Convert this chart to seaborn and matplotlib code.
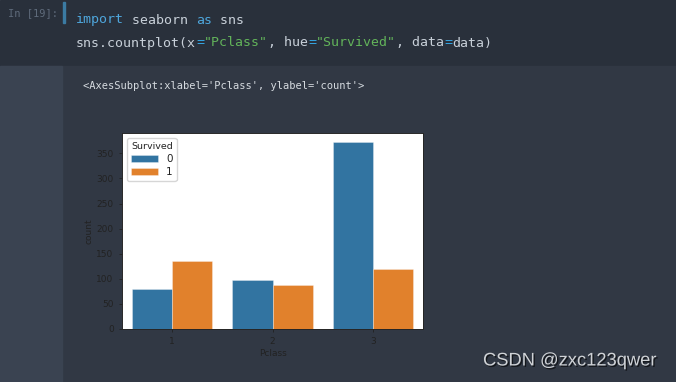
import matplotlib
matplotlib.use("Agg")
import matplotlib.pyplot as plt
import matplotlib.patches as mpatches
import matplotlib.patheffects as pe
import pandas as pd
import seaborn as sns

# Titanic counts by passenger class and survival
pclass = [1, 2, 3]
died = [80, 97, 372]
survived = [136, 87, 119]
hue_levels = ["0", "1"]

W, H = 676, 382

df = pd.DataFrame({
    "Pclass": pclass * 2,
    "count": died + survived,
    "Survived": [hue_levels[0]] * 3 + [hue_levels[1]] * 3,
})

sns.set_style("ticks")
plt.rcParams["font.family"] = ["DejaVu Sans"]

fig = plt.figure(figsize=(W / 100, H / 100), dpi=100)
renderer = fig.canvas.get_renderer()


def px_rect(x, y, w, h, color):
    # rectangle in pixel coords, y from top
    fig.patches.append(mpatches.Rectangle(
        (x / W, 1 - (y + h) / H), w / W, h / H,
        transform=fig.transFigure, color=color, zorder=-10))


def px_text(x, y, s, **kw):
    return fig.text(x / W, 1 - y / H, s, va="center", ha="left", **kw)


# notebook background
px_rect(0, 0, W, 66, "#29303b")
px_rect(0, 66, W, H - 66, "#313844")
px_rect(0, 66, 62, H - 66, "#3a4351")
px_rect(63, 2, 2, 21, "#3b7ba3")

mono = "DejaVu Sans Mono"
px_text(8, 13, "In [19]:", family=mono, fontsize=7.5, color="#5f6b7b")

# code lines, token by token; advance measured from a full line
fg, kw_c, str_c, op_c = "#c8d0d9", "#4ea6dc", "#62b35a", "#35a8e6"
code_size = 9.55
probe = px_text(0, 0, "x" * 40, family=mono, fontsize=code_size)
adv = probe.get_window_extent(renderer).width / 40
probe.remove()
lines = [
    (20, [("import", kw_c), (" seaborn ", fg), ("as", kw_c), (" sns", fg)]),
    (43, [("sns.countplot(x", fg), ("=", op_c), ('"Pclass"', str_c),
          (", hue", fg), ("=", op_c), ('"Survived"', str_c),
          (", data", fg), ("=", op_c), ("data)", fg)]),
]
for ly, toks in lines:
    i = 0
    for tok, col in toks:
        px_text(76 + i * adv, ly, tok, family=mono, fontsize=code_size, color=col)
        i += len(tok)

px_text(83, 86, "<AxesSubplot:xlabel='Pclass', ylabel='count'>",
        family=mono, fontsize=7.5, color="#d6dbe0")

# chart
ax = fig.add_axes([122 / W, 1 - 329 / H, 301 / W, 196 / H])
sns.barplot(data=df, x="Pclass", y="count", hue="Survived",
            palette=["#1f77b4", "#ff7f0e"], ax=ax,
            edgecolor=(1, 1, 1, 0.35), linewidth=0.6)
ax.set_facecolor("white")
ax.set_yticks(range(0, 351, 50))
ax.tick_params(labelsize=6.5, colors="#222222", length=2.5, width=0.6)
ax.set_xlabel("Pclass", fontsize=6.5, color="#222222", labelpad=2)
ax.set_ylabel("count", fontsize=6.5, color="#222222", labelpad=2)
for sp in ax.spines.values():
    sp.set_linewidth(0.7)
    sp.set_visible(True)
leg = ax.legend(title="Survived", loc="upper left", fontsize=7.5,
                title_fontsize=6.8, handlelength=2.6, handleheight=0.6,
                borderpad=0.35, labelspacing=0.3, framealpha=0.8,
                borderaxespad=0.5)
for t in leg.get_texts():
    t.set_color("#222222")
leg.get_title().set_color("#222222")

# watermark
fig.text(483 / W, 1 - 361 / H, "CSDN @zxc123qwer", family="Liberation Sans",
         fontsize=13.2, color="#cfd2d6", va="center", ha="left",
         path_effects=[pe.withSimplePatchShadow(offset=(1, -1),
                                                shadow_rgbFace="black",
                                                alpha=0.6)])

fig.savefig("out.png", dpi=100)
